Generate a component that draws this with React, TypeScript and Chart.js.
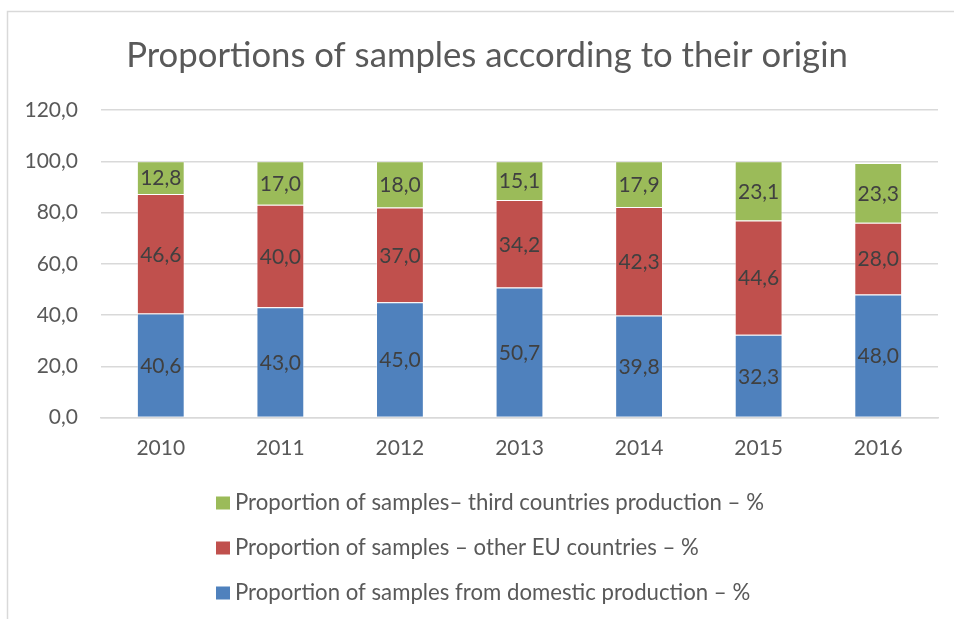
import React, { useEffect, useRef } from "react";
import { Chart, registerables } from "chart.js";

Chart.register(...registerables);

const years = ["2010", "2011", "2012", "2013", "2014", "2015", "2016"];
const domestic = [40.6, 43.0, 45.0, 50.7, 39.8, 32.3, 48.0];
const otherEU = [46.6, 40.0, 37.0, 34.2, 42.3, 44.6, 28.0];
const thirdCountries = [12.8, 17.0, 18.0, 15.1, 17.9, 23.1, 23.3];

const labelDomestic = "Proportion of samples from domestic production – %";
const labelOtherEU = "Proportion of samples – other EU countries – %";
const labelThird = "Proportion of samples– third countries production – %";
const titleText = "Proportions of samples according to their origin";

const yTickStep = 20;
const yMax = 120;

const BLUE = "#4f81bd";
const RED = "#c0504d";
const GREEN = "#9bbb59";
const FONT = "Lato";

const fmt = (v: number) => v.toFixed(1).replace(".", ",");

const framePlugin = {
  id: "frame",
  beforeDraw(chart: any) {
    const ctx = chart.ctx;
    ctx.save();
    ctx.fillStyle = "#ffffff";
    ctx.fillRect(0, 0, chart.width, chart.height);
    ctx.strokeStyle = "#d9d9d9";
    ctx.lineWidth = 1.5;
    ctx.strokeRect(7.5, 11.5, chart.width + 20, chart.height + 20);
    ctx.restore();
  },
};

const titlePlugin = {
  id: "customTitle",
  afterDraw(chart: any) {
    const ctx = chart.ctx;
    ctx.save();
    ctx.fillStyle = "#595959";
    ctx.font = `34.7px ${FONT}`;
    ctx.textAlign = "center";
    ctx.textBaseline = "middle";
    ctx.fillText(titleText, 487, 56);
    ctx.restore();
  },
};

const dataLabelPlugin = {
  id: "dataLabels",
  afterDatasetsDraw(chart: any) {
    const ctx = chart.ctx;
    ctx.save();
    ctx.fillStyle = "#404040";
    ctx.font = `21px ${FONT}`;
    ctx.textAlign = "center";
    ctx.textBaseline = "middle";
    chart.data.datasets.forEach((ds: any, i: number) => {
      const meta = chart.getDatasetMeta(i);
      meta.data.forEach((el: any, j: number) => {
        const v = ds.data[j];
        const y = (el.y + el.base) / 2;
        ctx.fillText(fmt(v), el.x, y + 1);
      });
    });
    ctx.restore();
  },
};

const legendPlugin = {
  id: "customLegend",
  afterDraw(chart: any) {
    const ctx = chart.ctx;
    const items = [...chart.data.datasets].reverse();
    ctx.save();
    ctx.font = `22.2px ${FONT}`;
    ctx.textBaseline = "middle";
    ctx.textAlign = "left";
    items.forEach((ds: any, k: number) => {
      const cy = 503 + k * 45;
      ctx.fillStyle = ds.backgroundColor;
      ctx.fillRect(216, cy - 6.5, 14, 13);
      ctx.fillStyle = "#595959";
      ctx.fillText(ds.label, 235, cy);
    });
    ctx.restore();
  },
};

export default function App() {
  const ref = useRef<HTMLCanvasElement | null>(null);

  useEffect(() => {
    document.body.style.margin = "0";
    const canvas = ref.current!;
    const chart = new Chart(canvas, {
      type: "bar",
      data: {
        labels: years,
        datasets: [
          {
            label: labelDomestic,
            data: domestic,
            backgroundColor: BLUE,
            borderColor: "rgba(255,255,255,0.35)",
            borderWidth: 1,
          },
          {
            label: labelOtherEU,
            data: otherEU,
            backgroundColor: RED,
            borderColor: "rgba(255,255,255,0.35)",
            borderWidth: 1,
          },
          {
            label: labelThird,
            data: thirdCountries,
            backgroundColor: GREEN,
            borderColor: "rgba(255,255,255,0.35)",
            borderWidth: 1,
          },
        ],
      },
      options: {
        responsive: false,
        animation: false,
        devicePixelRatio: 1,
        layout: { padding: { top: 110, right: 16, left: 0, bottom: 0 } },
        datasets: { bar: { barPercentage: 0.4, categoryPercentage: 1 } },
        plugins: {
          legend: { display: false },
          title: { display: false },
          tooltip: { enabled: false },
        },
        scales: {
          x: {
            stacked: true,
            grid: { display: false, drawTicks: false },
            border: { display: true, color: "#d9d9d9", width: 1.5 },
            ticks: {
              color: "#595959",
              font: { family: FONT, size: 21 },
              padding: 18,
            },
            afterFit: (scale: any) => {
              scale.height = 201.5;
            },
          },
          y: {
            stacked: true,
            min: 0,
            max: yMax,
            grid: { color: "#d9d9d9", lineWidth: 1.5, drawTicks: false },
            border: { display: false },
            ticks: {
              stepSize: yTickStep,
              color: "#595959",
              font: { family: FONT, size: 21 },
              padding: 23,
              callback: (v: any) => fmt(Number(v)),
            },
            afterFit: (scale: any) => {
              scale.width = 101;
            },
          },
        },
      },
      plugins: [framePlugin, titlePlugin, dataLabelPlugin, legendPlugin],
    });
    return () => chart.destroy();
  }, []);

  return (
    <div style={{ width: 954, height: 619, position: "relative" }}>
      <canvas ref={ref} width={954} height={619} style={{ display: "block" }} />
    </div>
  );
}
